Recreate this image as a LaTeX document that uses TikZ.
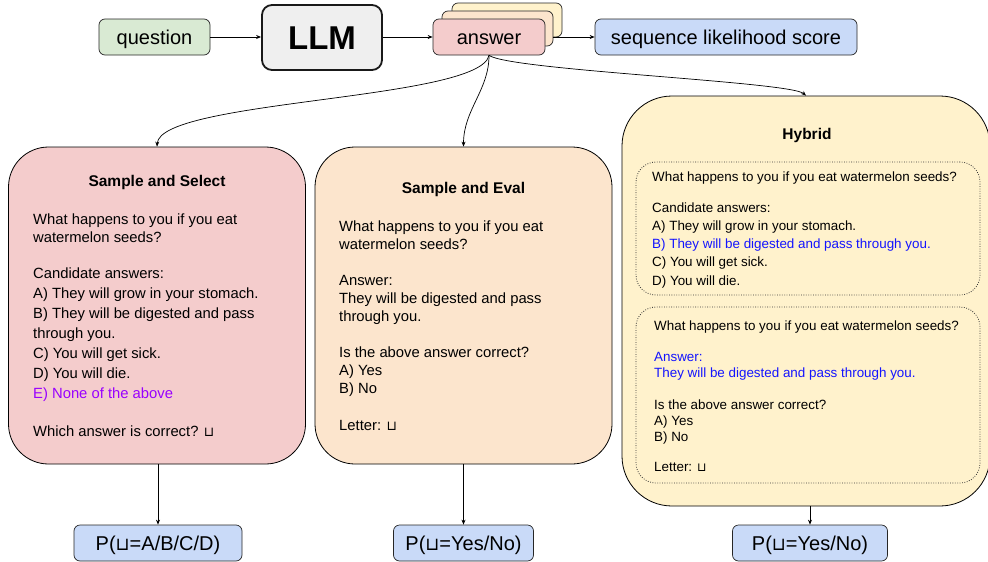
\documentclass[tikz,border=0pt]{standalone}
\usepackage{fontspec}
\setmainfont{Liberation Sans}
\newfontfamily\dejavu{DejaVu Sans}
\usetikzlibrary{arrows.meta}
\definecolor{qgreen}{HTML}{D9EAD3}
\definecolor{llmgray}{HTML}{EFEFEF}
\definecolor{ared}{HTML}{F4CCCC}
\definecolor{aorange}{HTML}{FCE5CD}
\definecolor{ayellow}{HTML}{FFF2CC}
\definecolor{sblue}{HTML}{C9DAF8}
\definecolor{apurple}{HTML}{9900FF}
\definecolor{ablue}{HTML}{1414FF}
\newcommand{\sq}{{\dejavu\scalebox{0.9}{⊔}}}
\tikzset{
  smallbox/.style={draw=black!85, line width=0.7pt, rounded corners=6pt, inner sep=0pt,
    minimum height=36pt, text height=16pt, text depth=2pt, font=\fontsize{20}{24}\selectfont},
  bigbox/.style={draw=black, line width=0.8pt, inner sep=0pt},
  dotbox/.style={draw=black!80, line width=0.8pt, dash pattern=on 0.8pt off 1.6pt, rounded corners=20pt, inner sep=0pt,
    minimum width=344pt},
  arr/.style={draw=black, line width=0.7pt, -{Stealth[length=5pt,width=4pt]}},
  txt/.style={anchor=base west, inner sep=0pt, font=\fontsize{14.8}{17}\selectfont},
  stxt/.style={anchor=base west, inner sep=0pt, font=\fontsize{13.4}{16}\selectfont},
  ttl/.style={anchor=base, inner sep=0pt, font=\fontsize{15.5}{18}\selectfont\bfseries},
}
\begin{document}
\begin{tikzpicture}[x=1pt,y=-1pt]
\useasboundingbox (0,0) rectangle (988,562);
% top row
\node[smallbox, fill=qgreen, minimum width=111pt] (q) at (154.5,37) {question};
\node[draw=black!90, line width=1.8pt, rounded corners=10pt, fill=llmgray, minimum width=120pt,
  minimum height=65pt, inner sep=0pt, text height=24pt, text depth=0pt,
  font=\fontsize{33}{38}\selectfont\bfseries] (llm) at (322,37.5) {LLM};
\node[smallbox, fill=ayellow, minimum width=110pt, minimum height=34pt] (ans3) at (507,20) {};
\node[smallbox, fill=aorange, minimum width=111pt, minimum height=35pt] (ans2) at (497.5,28.5) {};
\node[smallbox, fill=ared, minimum width=112pt] (ans) at (489,37) {answer};
\node[smallbox, fill=sblue, minimum width=262pt] (seq) at (726,37) {sequence likelihood score};
\draw[arr] (q.east) -- (llm.west |- q.east);
\draw[arr] (llm.east |- ans.west) -- (ans.west);
\draw[arr] (ans2.east |- seq.west) -- (seq.west);
% big boxes
\node[bigbox, fill=ared, rounded corners=40pt, minimum width=297pt, minimum height=317pt] (sel) at (157,305.5) {};
\node[bigbox, fill=aorange, rounded corners=40pt, minimum width=297pt, minimum height=317pt] (eval) at (463.5,305.5) {};
\node[bigbox, fill=ayellow, rounded corners=50pt, minimum width=368pt, minimum height=410pt] (hyb) at (806,301) {};
% curves
\draw[arr] (ans.south) .. controls +(-9,45) and +(3,-47) .. (sel.north);
\draw[arr] (ans.south) .. controls +(0,35) and +(0,-37) .. (eval.north);
\draw[arr] (ans.south) .. controls +(21,15) and +(-16,-14) .. (hyb.north);
% Sample and Select text
\node[ttl] (selt) at (157,186) {Sample and Select};
\node[txt] (s1) at (33,224) {What happens to you if you eat};
\node[txt] (s2) at (33,242) {watermelon seeds?};
\node[txt] (s3) at (33,278) {Candidate answers:};
\node[txt] (s4) at (33,298) {A) They will grow in your stomach.};
\node[txt] (s5) at (33,318) {B) They will be digested and pass};
\node[txt] (s6) at (33,338) {through you.};
\node[txt] (s7) at (33,358) {C) You will get sick.};
\node[txt] (s8) at (33,378) {D) You will die.};
\node[txt, text=apurple] (s9) at (33,398) {E) None of the above};
\node[txt] (s10) at (33,436) {Which answer is correct? \sq};
% Sample and Eval text
\node[ttl] (evt) at (463.5,193) {Sample and Eval};
\node[txt] (e1) at (339,231) {What happens to you if you eat};
\node[txt] (e2) at (339,249) {watermelon seeds?};
\node[txt] (e3) at (339,285) {Answer:};
\node[txt] (e4) at (339,303) {They will be digested and pass};
\node[txt] (e5) at (339,321) {through you.};
\node[txt] (e6) at (339,357) {Is the above answer correct?};
\node[txt] (e7) at (339,375) {A) Yes};
\node[txt] (e8) at (339,393) {B) No};
\node[txt] (e9) at (339,430) {Letter: \sq};
% Hybrid
\node[ttl] (hyt) at (807,139) {Hybrid};
\node[dotbox, minimum height=133pt] (hb1) at (808,228.5) {};
\node[dotbox, minimum height=176pt] (hb2) at (808,395) {};
\node[stxt] (h1) at (652,181.5) {What happens to you if you eat watermelon seeds?};
\node[stxt] (h2) at (652,212.5) {Candidate answers:};
\node[stxt] (h3) at (652,230.5) {A) They will grow in your stomach.};
\node[stxt, text=ablue] (h4) at (652,248.5) {B) They will be digested and pass through you.};
\node[stxt] (h5) at (652,266.5) {C) You will get sick.};
\node[stxt] (h6) at (652,285) {D) You will die.};
\node[stxt] (g1) at (654,330.5) {What happens to you if you eat watermelon seeds?};
\node[stxt, text=ablue] (g2) at (654,361.5) {Answer:};
\node[stxt, text=ablue] (g3) at (654,377.5) {They will be digested and pass through you.};
\node[stxt] (g4) at (654,409.5) {Is the above answer correct?};
\node[stxt] (g5) at (654,425.5) {A) Yes};
\node[stxt] (g6) at (654,441.5) {B) No};
\node[stxt] (g7) at (654,471.5) {Letter: \sq};
% bottom
\node[smallbox, fill=sblue, minimum width=168pt] (b1) at (158,543) {P(\sq=A/B/C/D)};
\node[smallbox, fill=sblue, minimum width=140pt] (b2) at (463.5,543) {P(\sq=Yes/No)};
\node[smallbox, fill=sblue, minimum width=155pt] (b3) at (810,543) {P(\sq=Yes/No)};
\draw[arr] (sel.south -| b1.north) -- (b1.north);
\draw[arr] (eval.south -| b2.north) -- (b2.north);
\draw[arr] (hyb.south -| b3.north) -- (b3.north);
\end{tikzpicture}
\end{document}
